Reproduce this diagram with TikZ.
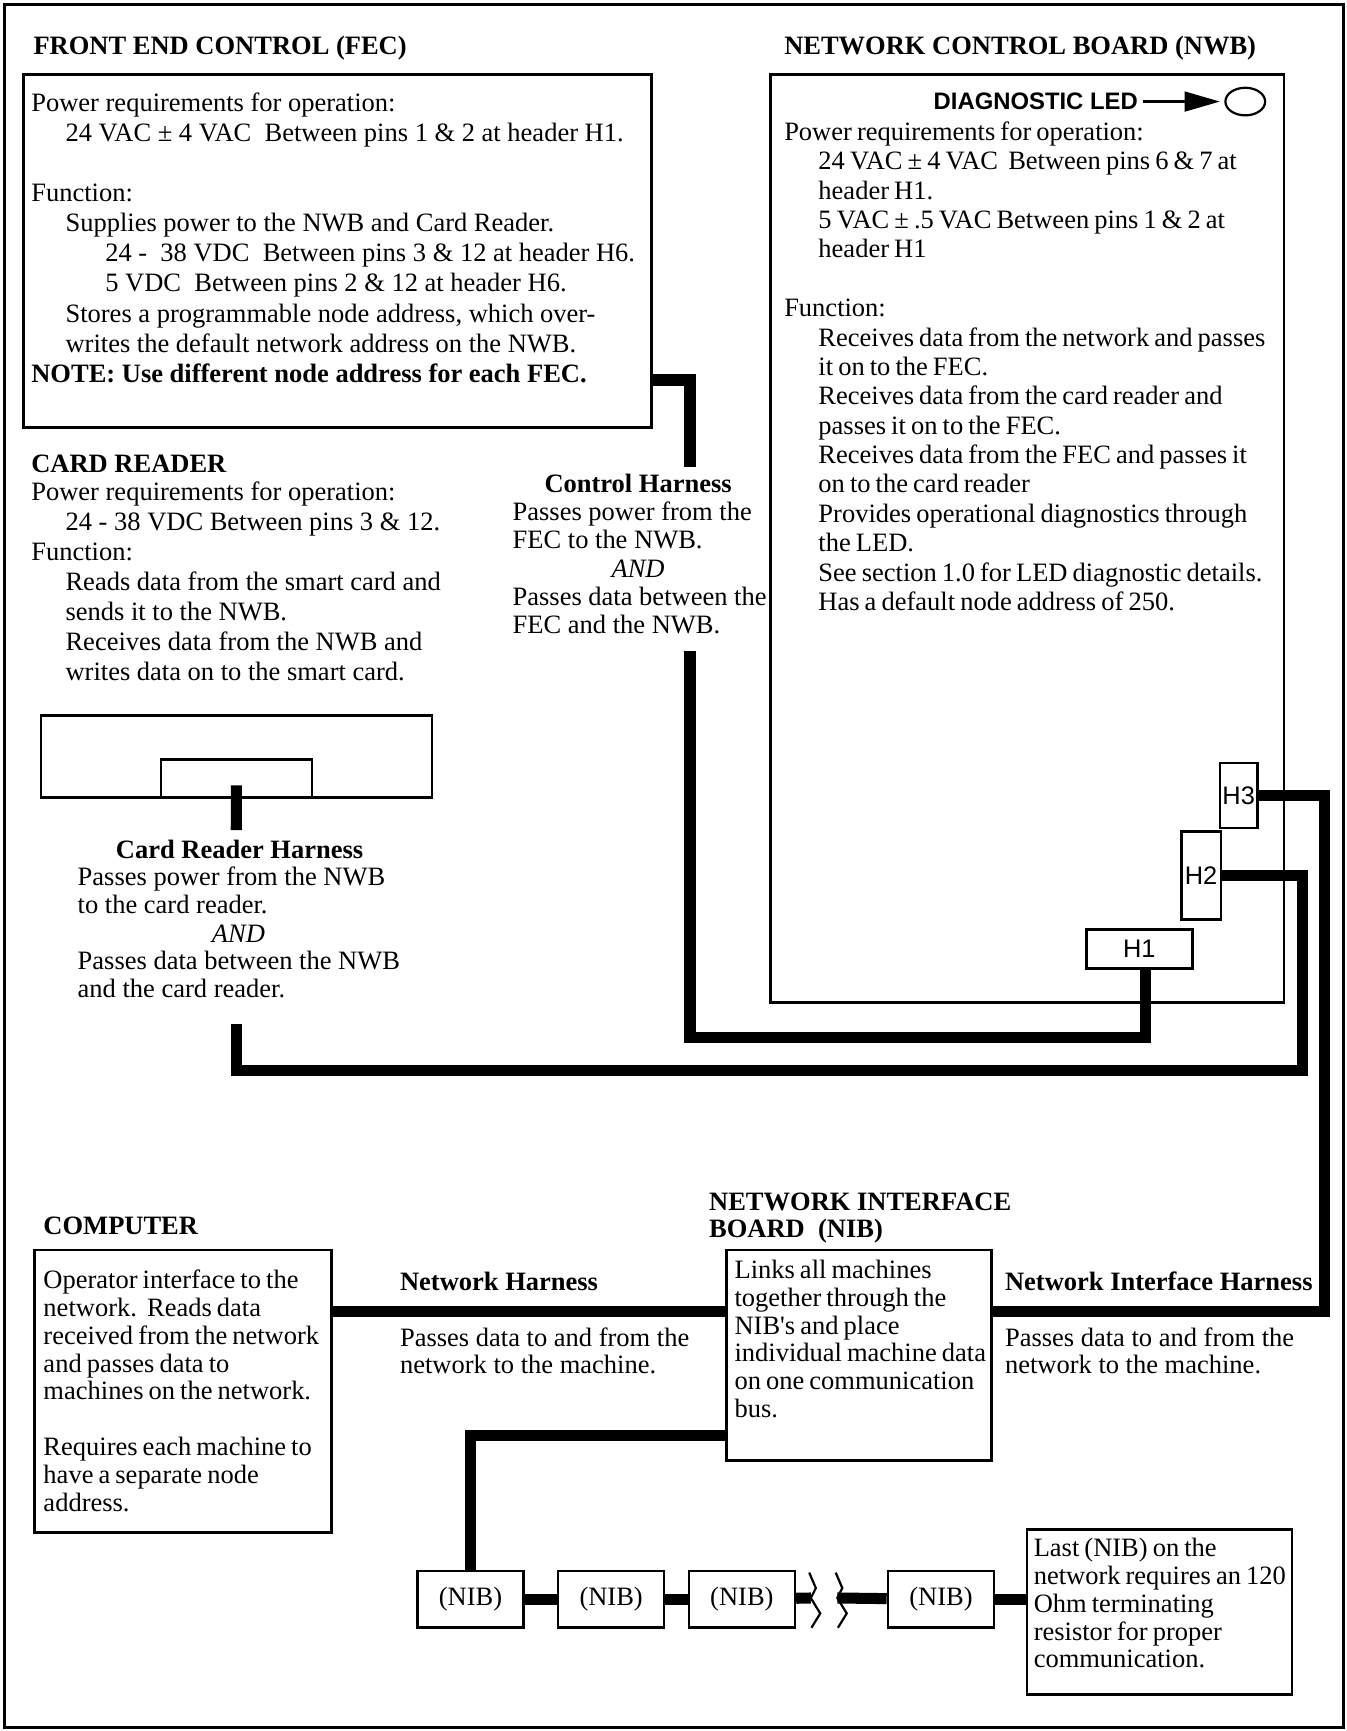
\documentclass[tikz,border=0pt]{standalone}
\usepackage{fontspec}
\setmainfont{Liberation Serif}
\setsansfont{Liberation Sans}
\usetikzlibrary{
  positioning,
  calc,
  shapes.geometric,
  arrows.meta}
\newcommand\tightspaces{\spaceskip=2.3pt plus 1pt minus 0.5pt\relax}
\tikzset{
  brk/.pic = {
    \coordinate (-m) at (1.5,0);
    \draw [line width=1pt] (0,-23) -- (6,-9) -- (1.5,0) -- (10,14) -- (2,27);
  }
}
\tikzset{
  %% board : outline of a board or device
  board/.style={
    rectangle,
    draw,
    line width=1.2pt,
    inner sep=0pt
  },
  %% header : a pin header on the NWB
  header/.style={
    board,
    font=\fontsize{11.5}{12}\sffamily
  },
  %% nibbox : one NIB of the chain
  nibbox/.style={
    board,
    minimum width=48pt,
    minimum height=25.5pt,
    font=\fontsize{12}{13}\selectfont
  },
  %% heading : bold title
  heading/.style={
    anchor=west,
    inner sep=0pt,
    font=\fontsize{12}{12.5}\selectfont\bfseries
  },
  %% harnesshead : centred bold title of a harness
  harnesshead/.style={
    inner sep=0pt,
    font=\fontsize{12}{12.5}\selectfont\bfseries
  },
  %% andnote : the italic AND
  andnote/.style={
    inner sep=0pt,
    font=\fontsize{12}{12.5}\selectfont\itshape
  },
  %% notes : block of text, #1 is the line distance
  notes/.style={
    anchor=north west,
    inner sep=0pt,
    align=left,
    font=\fontsize{12}{#1}\selectfont
  },
  notes/.default=13.5pt,
  %% tight : block of text with narrower word spaces
  tight/.style={
    notes,
    font=\fontsize{12}{#1}\selectfont\tightspaces
  },
  %% harness : thick cable
  harness/.style={line width=5pt, line cap=butt, line join=miter},
  %% outline : frame round the whole figure
  outline/.style={line width=1.2pt}
}

\begin{document}
\begin{tikzpicture}[x=0.5pt, y=-0.5pt]
  \useasboundingbox (0,0) rectangle (1220,1568);
  \draw [outline] (4,4) rectangle (1217,1565);

  %% Front end control
  \node (fechead) [heading] at (30,44) {FRONT END CONTROL (FEC)};
  \node (fec) [board, anchor=north west, minimum width=284.5pt,
    minimum height=160pt] at (20,66) {};
  \node (fectext) [notes=13.6pt] at (28,84) {%
    Power requirements for operation:\\
    \hspace*{15.5pt}24 VAC ± 4 VAC\ \ Between pins 1 \& 2 at header H1.\\[13.6pt]
    Function:\\
    \hspace*{15.5pt}Supplies power to the NWB and Card Reader.\\
    \hspace*{33.5pt}24 -\ \ 38 VDC\ \ Between pins 3 \& 12 at header H6.\\
    \hspace*{33.5pt}5 VDC\ \ Between pins 2 \& 12 at header H6.\\
    \hspace*{15.5pt}Stores a programmable node address, which over-\\
    \hspace*{15.5pt}writes the default network address on the NWB.\\
    \textbf{NOTE: Use different node address for each FEC.}};

  %% Network control board
  \node (nwbhead) [heading] at (710,44) {NETWORK CONTROL BOARD (NWB)};
  \node (nwb) [board, anchor=north west, minimum width=232.5pt,
    minimum height=420.5pt] at (697,66) {};
  \node (led) [ellipse, draw, line width=1pt, minimum width=18pt,
    minimum height=12.5pt, inner sep=0pt] at (1128,92) {};
  \node (ledlabel) [anchor=east, inner sep=0pt,
    font=\fontsize{10.8}{12}\sffamily\bfseries] at (1031,92) {DIAGNOSTIC LED};
  \draw [-{Triangle[length=16pt, width=9pt]}, line width=1pt,
    shorten <=2pt, shorten >=2pt] (ledlabel) -- (led);
  \node (nwbtext) [tight=13.3pt] at (710,110) {%
    Power requirements for operation:\\
    \hspace*{15.5pt}24 VAC ± 4 VAC\ \ Between pins 6 \& 7 at\\
    \hspace*{15.5pt}header H1.\\
    \hspace*{15.5pt}5 VAC ± .5 VAC Between pins 1 \& 2 at\\
    \hspace*{15.5pt}header H1\\[13.3pt]
    Function:\\
    \hspace*{15.5pt}Receives data from the network and passes\\
    \hspace*{15.5pt}it on to the FEC.\\
    \hspace*{15.5pt}Receives data from the card reader and\\
    \hspace*{15.5pt}passes it on to the FEC.\\
    \hspace*{15.5pt}Receives data from the FEC and passes it\\
    \hspace*{15.5pt}on to the card reader\\
    \hspace*{15.5pt}Provides operational diagnostics through\\
    \hspace*{15.5pt}the LED.\\
    \hspace*{15.5pt}See section 1.0 for LED diagnostic details.\\
    \hspace*{15.5pt}Has a default node address of 250.};

  \node (hthree) [header, minimum width=17pt, minimum height=29.5pt]
    at (1122,720.5) {H3};
  \node (htwo) [header, minimum width=18pt, minimum height=40pt]
    at (1088,793) {H2};
  \node (hone) [header, minimum width=48pt, minimum height=17.5pt]
    at (1032,859.5) {H1};

  %% Card reader
  \node (readhead) [heading] at (28,420) {CARD READER};
  \node (readtext) [notes=13.6pt] at (28,436) {%
    Power requirements for operation:\\
    \hspace*{15.5pt}24 - 38 VDC Between pins 3 \& 12.\\
    Function:\\
    \hspace*{15.5pt}Reads data from the smart card and\\
    \hspace*{15.5pt}sends it to the NWB.\\
    \hspace*{15.5pt}Receives data from the NWB and\\
    \hspace*{15.5pt}writes data on to the smart card.};
  \node (reader) [board, anchor=north west, minimum width=177pt,
    minimum height=37pt] at (36,647) {};
  \node (slot) [board, anchor=south, minimum width=68.5pt,
    minimum height=17pt] at (reader.south) {};

  %% Harness texts
  \node (chhead) [harnesshead] at (578,438) {Control Harness};
  \node (chtext1) [notes=12.8pt] at (464,454) {%
    Passes power from the\\FEC to the NWB.};
  \node (chand) [andnote] at (578,515) {AND};
  \node (chtext2) [notes=12.8pt] at (464,531) {%
    Passes data between the\\FEC and the NWB.};

  \node (rhhead) [harnesshead] at (217,769) {Card Reader Harness};
  \node (rhtext1) [notes=12.7pt] at (70,785) {%
    Passes power from the NWB\\to the card reader.};
  \node (rhand) [andnote] at (216,846) {AND};
  \node (rhtext2) [notes=12.7pt] at (70,861) {%
    Passes data between the NWB\\and the card reader.};

  %% Computer and network interface board
  \node (comphead) [heading] at (39,1110) {COMPUTER};
  \node (computer) [board, anchor=north west, minimum width=134.5pt,
    minimum height=128pt] at (30,1131) {};
  \node (comptext) [tight=12.6pt] at (39,1150) {%
    Operator interface to the\\
    network.\ \ Reads data\\
    received from the network\\
    and passes data to\\
    machines on the network.\\[12.6pt]
    Requires each machine to\\
    have a separate node\\
    address.};

  \node (nibhead) [heading, anchor=north west, align=left] at (642,1080) {%
    NETWORK INTERFACE\\BOARD\ \ (NIB)};
  \node (nib) [board, anchor=north west, minimum width=120pt,
    minimum height=95.5pt] at (657,1131) {};
  \node (nibtext) [tight=12.6pt] at (665,1141) {%
    Links all machines\\
    together through the\\
    NIB\textquotesingle s and place\\
    individual machine data\\
    on one communication\\
    bus.};

  \node (nethead) [heading] at (362,1161) {Network Harness};
  \node (nettext) [notes=12.6pt] at (362,1202) {%
    Passes data to and from the\\network to the machine.};
  \node (nihead) [heading] at (910,1161) {Network Interface Harness};
  \node (nitext) [notes=12.6pt] at (910,1202) {%
    Passes data to and from the\\network to the machine.};

  %% NIB chain
  \node (nibA) [nibbox, anchor=north west] at (377,1422) {(NIB)};
  \node (nibB) [nibbox, right=14.5pt of nibA] {(NIB)};
  \node (nibC) [nibbox, right=10pt of nibB] {(NIB)};
  \node (nibD) [nibbox, right=41pt of nibC] {(NIB)};
  \node (last) [board, anchor=north west, minimum width=120pt,
    minimum height=75pt] at (929,1384) {};
  \node (lasttext) [tight=12.6pt] at (936,1393) {%
    Last (NIB) on the\\
    network requires an 120\\
    Ohm terminating\\
    resistor for proper\\
    communication.};
  \pic (brkL) at (733,1447.5) {brk};
  \pic (brkR) at (757,1447.5) {brk};

  %% Harnesses
  \coordinate (ctrltop) at (625,423);
  \coordinate (ctrlbot) at (625,590);
  \coordinate (readtop) at (214,752);
  \coordinate (readbot) at (214,928);
  \coordinate (htwojog) at (1180,793);
  \coordinate (nibjog) at (1200,1188);
  \coordinate (busrow) at (0,1300);

  \draw [harness] ([yshift=-58.5pt]fec.east) -| (ctrltop);
  \draw [harness] (ctrlbot) -- ++(0,350) -| ([xshift=3pt]hone.south);
  \draw [harness] ([yshift=6pt]slot.south) -- (readtop);
  \draw [harness] (readbot) -- ++(0,42) -| (htwojog) -- (htwo.east);
  \draw [harness] (hthree.east) -| (nibjog) -- (nib.east |- nibjog);
  \draw [harness] (computer.east |- nibjog) -- (nib.west |- nibjog);
  \draw [harness] (nib.west |- busrow) -| (nibA.north);
  \draw [harness] (nibA) -- (nibB);
  \draw [harness] (nibB) -- (nibC);
  \draw [harness] (nibC) -- (brkL-m);
  \draw [harness] (brkR-m) -- (nibD);
  \draw [harness] (nibD) -- (last.west |- nibD);

\end{tikzpicture}
\end{document}
